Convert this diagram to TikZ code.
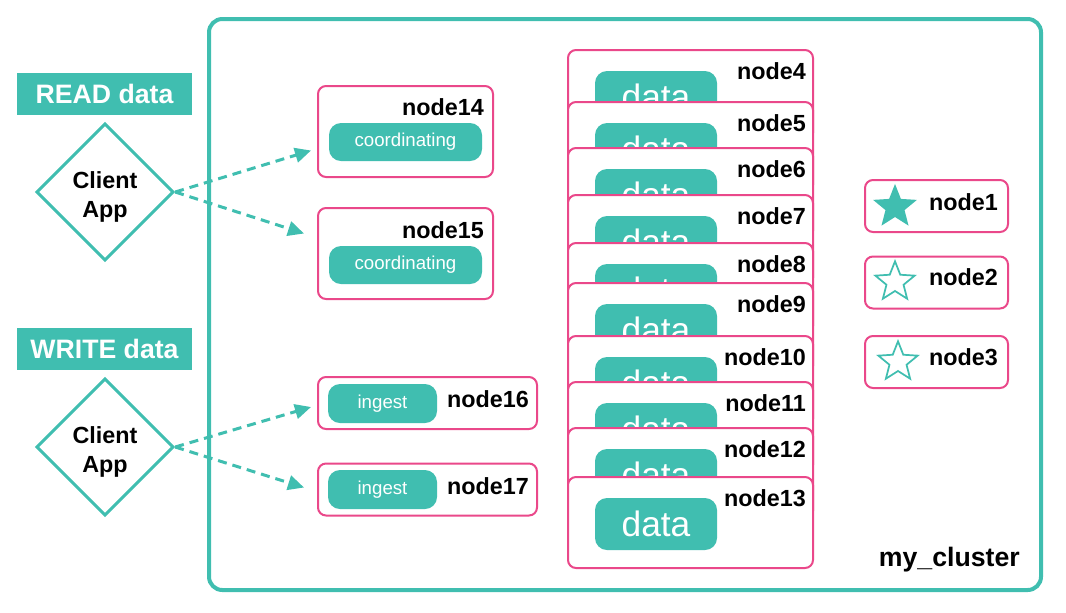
\documentclass[tikz,border=0pt]{standalone}
\usepackage{fontspec}
\setmainfont{Liberation Sans}
\usepackage{tikz}
\usetikzlibrary{positioning,shapes.geometric,arrows.meta}

\definecolor{esteal}{RGB}{64,190,176}
\definecolor{espink}{RGB}{234,72,138}

\begin{document}
\begin{tikzpicture}[x=0.75pt,y=-0.75pt,
    cluster/.style={rectangle,draw=esteal,line width=3pt,rounded corners=10pt,minimum width=624pt,minimum height=428.25pt,inner sep=0pt},
    box/.style={rectangle,draw=espink,line width=1.5pt,rounded corners=6pt,fill=white,inner sep=0pt},
    databox/.style={box,minimum width=183.75pt,minimum height=68.25pt},
    coordbox/.style={box,minimum width=131.25pt,minimum height=68.25pt},
    ingestbox/.style={box,minimum width=164.25pt,minimum height=39pt},
    masterbox/.style={box,minimum width=107.25pt,minimum height=39pt},
    pill/.style={rectangle,fill=esteal,text=white,rounded corners=9pt,inner sep=0pt},
    datapill/.style={pill,minimum width=91.5pt,minimum height=39pt,font=\fontsize{26.5}{30}\selectfont},
    coordpill/.style={pill,minimum width=114.75pt,minimum height=28.5pt,font=\fontsize{14}{16}\selectfont},
    ingestpill/.style={pill,minimum width=81.75pt,minimum height=29.25pt,font=\fontsize{14}{16}\selectfont},
    lbl/.style={font=\fontsize{17.5}{20}\selectfont\bfseries,inner sep=0pt,anchor=east},
    tag/.style={rectangle,fill=esteal,text=white,font=\fontsize{20}{24}\selectfont\bfseries,minimum width=131.25pt,minimum height=31.5pt,inner sep=0pt},
    client/.style={diamond,draw=esteal,line width=2.25pt,minimum width=103pt,minimum height=103pt,inner sep=0pt,font=\fontsize{17.5}{22}\selectfont\bfseries},
    req/.style={draw=esteal,line width=2.25pt,dash pattern=on 6.75pt off 4.5pt,-{Triangle[length=12pt,width=11pt]}},
    master/.style={star,star points=5,star point ratio=2.3,draw=esteal,line width=1.3pt,minimum size=31pt,inner sep=0pt}]
    \useasboundingbox (0,0) rectangle (1066,612);

    \node[cluster] at (625, 304.5) (cl) {};
    \node[lbl,font=\fontsize{20}{24}\selectfont\bfseries] at (1020, 560) (cln) {my\_cluster};

    \node[tag] at (104.5, 94) (rd) {READ data};
    \node[client] at (105, 192) (c1) {\raisebox{-8pt}[0pt][0pt]{\begin{tabular}{@{}c@{}}Client\\App\end{tabular}}};
    \node[tag] at (104.5, 349) (wr) {WRITE data};
    \node[client] at (105, 447) (c2) {\raisebox{-8pt}[0pt][0pt]{\begin{tabular}{@{}c@{}}Client\\App\end{tabular}}};

    \node[coordbox] at (405.5, 131.5) (n14) {};
    \node[coordpill] at (405.5, 142) (p14) {coordinating};
    \node[lbl] at (484, 107) (l14) {node14};
    \node[coordbox] at (405.5, 253.5) (n15) {};
    \node[coordpill] at (405.5, 265) (p15) {coordinating};
    \node[lbl] at (484, 230) (l15) {node15};

    \node[ingestbox] at (427.5, 403) (n16) {};
    \node[ingestpill] at (382.5, 403.5) (p16) {ingest};
    \node[lbl] at (529, 399) (l16) {node16};
    \node[ingestbox] at (427.5, 489.5) (n17) {};
    \node[ingestpill] at (382.5, 489.5) (p17) {ingest};
    \node[lbl] at (529, 486) (l17) {node17};

    \node[databox] at (690.5, 95.5) (n4) {};
    \node[datapill] at (656, 97) (p4) {data};
    \node[lbl] at (806, 71) (l4) {node4};
    \node[databox] at (690.5, 147.5) (n5) {};
    \node[datapill] at (656, 149) (p5) {data};
    \node[lbl] at (806, 123) (l5) {node5};
    \node[databox] at (690.5, 193.5) (n6) {};
    \node[datapill] at (656, 195) (p6) {data};
    \node[lbl] at (806, 169) (l6) {node6};
    \node[databox] at (690.5, 240.5) (n7) {};
    \node[datapill] at (656, 242) (p7) {data};
    \node[lbl] at (806, 216) (l7) {node7};
    \node[databox] at (690.5, 288.5) (n8) {};
    \node[datapill] at (656, 290) (p8) {data};
    \node[lbl] at (806, 264) (l8) {node8};
    \node[databox] at (690.5, 328.5) (n9) {};
    \node[datapill] at (656, 330) (p9) {data};
    \node[lbl] at (806, 304) (l9) {node9};
    \node[databox] at (690.5, 381.5) (n10) {};
    \node[datapill] at (656, 383) (p10) {data};
    \node[lbl] at (806, 357) (l10) {node10};
    \node[databox] at (690.5, 427.5) (n11) {};
    \node[datapill] at (656, 429) (p11) {data};
    \node[lbl] at (806, 403) (l11) {node11};
    \node[databox] at (690.5, 473.5) (n12) {};
    \node[datapill] at (656, 475) (p12) {data};
    \node[lbl] at (806, 449) (l12) {node12};
    \node[databox] at (690.5, 522.5) (n13) {};
    \node[datapill] at (656, 524) (p13) {data};
    \node[lbl] at (806, 498) (l13) {node13};

    \node[masterbox] at (936.5, 206) (n1) {};
    \node[master,fill=esteal] at (895, 207) (s1) {};
    \node[lbl] at (998, 202) (l1) {node1};
    \node[masterbox] at (936.5, 282.5) (n2) {};
    \node[master] at (895, 282) (s2) {};
    \node[lbl] at (998, 277) (l2) {node2};
    \node[masterbox] at (936.5, 362) (n3) {};
    \node[master] at (898, 362) (s3) {};
    \node[lbl] at (998, 357) (l3) {node3};

    \draw[req]      (c1.east) -- ([shift={(-6,19)}]n14.west);
    \draw[req]      (c1.east) -- ([shift={(-13,-20)}]n15.west);
    \draw[req]      (c2.east) -- ([shift={(-6,4)}]n16.west);
    \draw[req]      (c2.east) -- ([shift={(-13,-2)}]n17.west);
\end{tikzpicture}
\end{document}
